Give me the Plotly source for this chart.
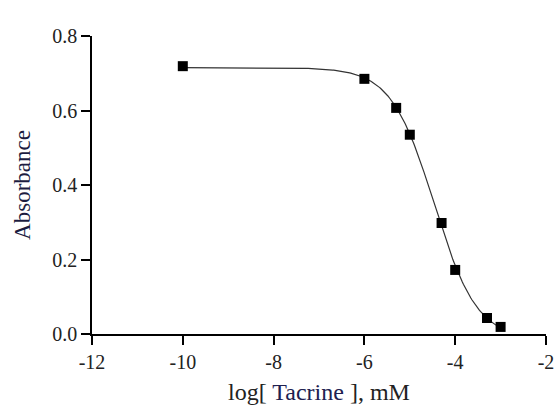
import numpy as np
import plotly.graph_objects as go

# Data
log_conc = [-10.0, -6.0, -5.3, -5.0, -4.3, -4.0, -3.3, -3.0]
absorbance = [0.719, 0.685, 0.607, 0.535, 0.298, 0.172, 0.043, 0.019]

x_tick_vals = [-12, -10, -8, -6, -4, -2]
x_tick_text = ["-12", "-10", "-8", "-6", "-4", "-2"]
y_tick_vals = [0.0, 0.2, 0.4, 0.6, 0.8]
y_tick_text = ["0.0", "0.2", "0.4", "0.6", "0.8"]

# Four-parameter logistic fit to the data (grid search on logIC50 / Hill,
# linear least squares for top/bottom)
xd = np.array(log_conc)
yd = np.array(absorbance)
best = None
for c in np.arange(-6.0, -3.5, 0.005):
    for h in np.arange(0.4, 2.5, 0.01):
        s = 1.0 / (1.0 + 10 ** ((xd - c) * h))
        A = np.vstack([np.ones_like(s), s]).T
        coef, *_ = np.linalg.lstsq(A, yd, rcond=None)
        r = np.sum((A @ coef - yd) ** 2)
        if best is None or r < best[0]:
            best = (r, c, h, coef)
_, c_fit, h_fit, (bottom, span) = best
xc = np.linspace(min(log_conc), max(log_conc), 300)
yc = bottom + span / (1.0 + 10 ** ((xc - c_fit) * h_fit))

FONT = "Liberation Serif, Times New Roman, serif"

fig = go.Figure()
fig.add_trace(go.Scatter(x=xc, y=yc, mode="lines",
                         line=dict(color="#333333", width=1.2),
                         hoverinfo="skip", showlegend=False))
fig.add_trace(go.Scatter(x=log_conc, y=absorbance, mode="markers",
                         marker=dict(symbol="square", size=10, color="black"),
                         showlegend=False, cliponaxis=False))

fig.update_layout(
    width=557, height=405,
    margin=dict(l=92, r=11, t=36, b=71),
    paper_bgcolor="white", plot_bgcolor="white",
    font=dict(family=FONT, size=20, color="#222222"),
    xaxis=dict(range=[-12, -2], tickvals=x_tick_vals, ticktext=x_tick_text,
               automargin=False,
               showgrid=False, zeroline=False, showline=True,
               linecolor="black", linewidth=1.5, ticks="outside",
               ticklen=9, tickwidth=1.5, tickcolor="black",
               tickfont=dict(family=FONT, size=20, color="#222222"),
               title=dict(text="log[ <span style='color:#202050'>Tacrine</span> ], mM",
                          font=dict(family=FONT, size=24, color="#222222"),
                          standoff=12)),
    yaxis=dict(range=[0, 0.8], tickvals=y_tick_vals, ticktext=y_tick_text,
               automargin=False,
               showgrid=False, zeroline=False, showline=True,
               linecolor="black", linewidth=1.5, ticks="outside",
               ticklen=9, tickwidth=1.5, tickcolor="black",
               tickfont=dict(family=FONT, size=20, color="#222222"),
               title=dict(text="Absorbance",
                          font=dict(family=FONT, size=23, color="#1c1c40"),
                          standoff=15)),
)

fig.write_html("out.html")
